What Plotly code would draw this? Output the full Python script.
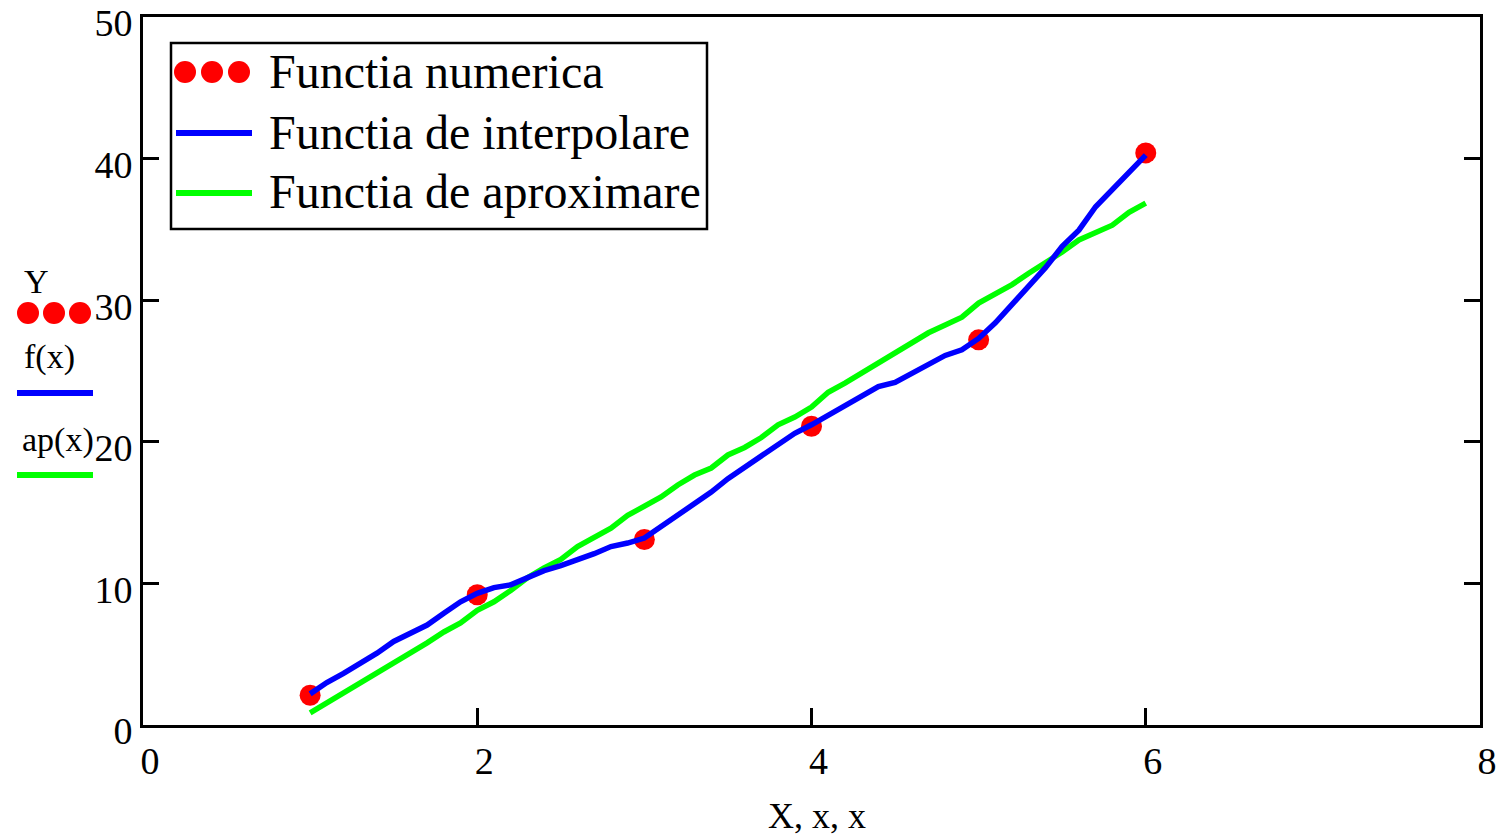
import plotly.graph_objects as go

# ---- data ----
X_pts = [1, 2, 3, 4, 5, 6]
Y_pts = [2.1, 9.2, 13.1, 21.1, 27.2, 40.4]

x_fine = [1.0, 1.1, 1.2, 1.3, 1.4, 1.5, 1.6, 1.7, 1.8, 1.9,
          2.0, 2.1, 2.2, 2.3, 2.4, 2.5, 2.6, 2.7, 2.8, 2.9,
          3.0, 3.1, 3.2, 3.3, 3.4, 3.5, 3.6, 3.7, 3.8, 3.9,
          4.0, 4.1, 4.2, 4.3, 4.4, 4.5, 4.6, 4.7, 4.8, 4.9,
          5.0, 5.1, 5.2, 5.3, 5.4, 5.5, 5.6, 5.7, 5.8, 5.9, 6.0]

f_interp = [2.2, 3.0, 3.65, 4.35, 5.07, 5.9, 6.5, 7.06, 7.9, 8.7,
            9.3, 9.7, 9.9, 10.45, 10.9, 11.25, 11.65, 12.1, 12.6, 12.85,
            13.2, 14.0, 14.8, 15.7, 16.45, 17.4, 18.2, 18.9, 19.8, 20.6,
            21.2, 21.9, 22.6, 23.2, 23.9, 24.2, 24.85, 25.4, 26.1, 26.5,
            27.3, 28.4, 29.7, 30.9, 32.3, 33.8, 34.95, 36.6, 37.8, 39.05, 40.25]

ap_approx = [0.85, 1.55, 2.26, 2.97, 3.67, 4.45, 5.08, 5.8, 6.57, 7.2,
             8.1, 8.7, 9.5, 10.4, 11.1, 11.7, 12.6, 13.3, 13.9, 14.8,
             15.4, 16.1, 16.95, 17.65, 18.15, 19.07, 19.6, 20.3, 21.2, 21.75,
             22.45, 23.5, 24.15, 24.85, 25.6, 26.25, 26.95, 27.7, 28.25, 28.8,
             29.8, 30.4, 31.1, 31.9, 32.6, 33.4, 34.25, 34.8, 35.3, 36.2, 36.85]

legend_names = ["Functia numerica", "Functia de interpolare", "Functia de aproximare"]
x_ticks = [0, 2, 4, 6, 8]
y_ticks = [0, 10, 20, 30, 40, 50]

RED, BLUE, GREEN = "#FF0000", "#0000FF", "#00FF00"
FONT = "Liberation Serif"

W, H = 1501, 837
L, R, T, B = 143, 21, 17, 112
PW, PH = W - L - R, H - T - B


def px(xp):
    return (xp - L) / PW


def py(yp):
    return (H - B - yp) / PH


fig = go.Figure()
fig.add_trace(go.Scatter(x=X_pts, y=Y_pts, mode="markers",
                         marker=dict(color=RED, size=21, line=dict(width=0)),
                         name=legend_names[0]))
fig.add_trace(go.Scatter(x=x_fine, y=ap_approx, mode="lines",
                         line=dict(color=GREEN, width=5.5), name=legend_names[2]))
fig.add_trace(go.Scatter(x=x_fine, y=f_interp, mode="lines",
                         line=dict(color=BLUE, width=5.5), name=legend_names[1]))

shapes = []
annotations = []

# in-plot legend box
shapes.append(dict(type="rect", xref="paper", yref="paper",
                   x0=px(171), x1=px(707), y0=py(43), y1=py(229),
                   line=dict(color="black", width=2.5), fillcolor="white", layer="above"))
entry_y = [72, 133, 193]
for cx in [185, 212, 239]:
    shapes.append(dict(type="circle", xref="paper", yref="paper",
                       x0=px(cx - 11), x1=px(cx + 11), y0=py(entry_y[0] + 11), y1=py(entry_y[0] - 11),
                       fillcolor=RED, line=dict(width=0), layer="above"))
for yy, col in [(entry_y[1], BLUE), (entry_y[2], GREEN)]:
    shapes.append(dict(type="line", xref="paper", yref="paper",
                       x0=px(176), x1=px(252), y0=py(yy), y1=py(yy),
                       line=dict(color=col, width=6), layer="above"))
for name, yy in zip(legend_names, entry_y):
    annotations.append(dict(text=name, xref="paper", yref="paper",
                            x=px(267), y=py(yy - 1), xanchor="left", yanchor="middle",
                            showarrow=False, font=dict(family=FONT, size=48, color="black")))

# left-side stacked axis label (Mathcad style)
annotations.append(dict(text="Y", xref="paper", yref="paper", x=px(36), y=py(281),
                        xanchor="center", yanchor="middle", showarrow=False,
                        font=dict(family=FONT, size=34, color="black")))
for cx in [28, 54, 80]:
    shapes.append(dict(type="circle", xref="paper", yref="paper",
                       x0=px(cx - 11), x1=px(cx + 11), y0=py(313 + 11), y1=py(313 - 11),
                       fillcolor=RED, line=dict(width=0)))
annotations.append(dict(text="f(x)", xref="paper", yref="paper", x=px(22), y=py(357),
                        xanchor="left", yanchor="middle", showarrow=False,
                        font=dict(family=FONT, size=34, color="black")))
shapes.append(dict(type="line", xref="paper", yref="paper",
                   x0=px(17), x1=px(93), y0=py(393), y1=py(393),
                   line=dict(color=BLUE, width=6)))
annotations.append(dict(text="ap(x)", xref="paper", yref="paper", x=px(20), y=py(440),
                        xanchor="left", yanchor="middle", showarrow=False,
                        font=dict(family=FONT, size=34, color="black")))
shapes.append(dict(type="line", xref="paper", yref="paper",
                   x0=px(17), x1=px(93), y0=py(475), y1=py(475),
                   line=dict(color=GREEN, width=6)))

# x axis title
annotations.append(dict(text="X, x, x", xref="paper", yref="paper", x=px(817), y=py(816),
                        xanchor="center", yanchor="middle", showarrow=False,
                        font=dict(family=FONT, size=36, color="black")))

fig.update_layout(
    width=W, height=H,
    margin=dict(l=L, r=R, t=T, b=B),
    paper_bgcolor="white", plot_bgcolor="white",
    showlegend=False,
    shapes=shapes, annotations=annotations,
    font=dict(family=FONT, color="black"),
)
fig.update_xaxes(range=[0, 8], tickvals=x_ticks, ticktext=[str(v) for v in x_ticks],
                 showgrid=False, zeroline=False, automargin=False,
                 showline=True, linecolor="black", linewidth=3, mirror=True,
                 ticks="inside", ticklen=17, tickwidth=3, tickcolor="black",
                 tickfont=dict(family=FONT, size=38, color="black"),
                 ticklabelstandoff=0, ticklabelshift=7)
fig.update_yaxes(range=[0, 50], tickvals=y_ticks, ticktext=[str(v) for v in y_ticks],
                 showgrid=False, zeroline=False, automargin=False,
                 showline=True, linecolor="black", linewidth=3, mirror="ticks",
                 ticks="inside", ticklen=16, tickwidth=3, tickcolor="black",
                 tickfont=dict(family=FONT, size=38, color="black"),
                 ticklabelstandoff=0, ticklabelshift=6, ticklabeloverflow="allow")

fig.write_html("out.html")
